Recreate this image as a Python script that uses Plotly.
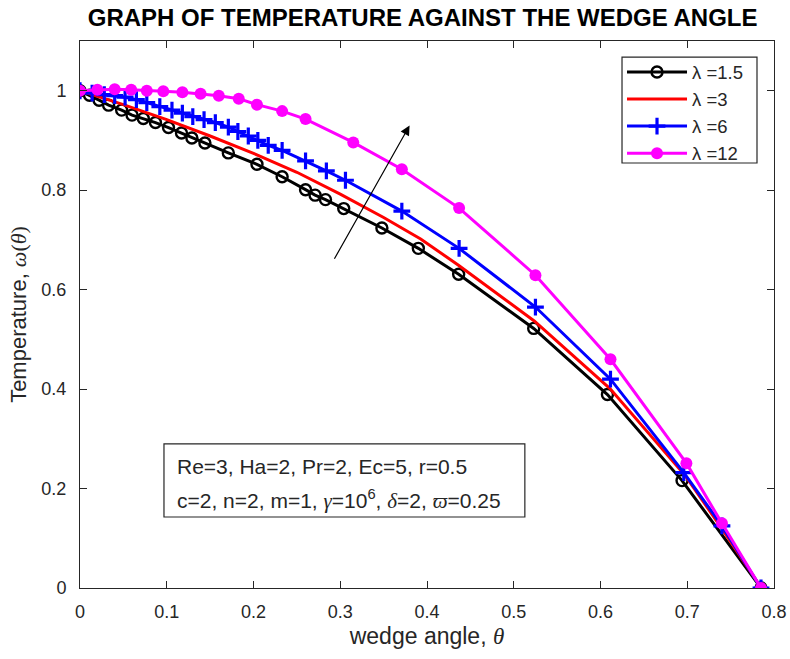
import plotly.graph_objects as go

# ---------------- data ----------------
black_theta = [0, 0.011, 0.022, 0.033, 0.048, 0.060, 0.073, 0.087, 0.102, 0.117, 0.129, 0.144,
               0.171, 0.204, 0.233, 0.260, 0.271, 0.283, 0.304, 0.348, 0.390, 0.4365, 0.523,
               0.608, 0.694, 0.785]
black_omega = [1.0, 0.991, 0.981, 0.971, 0.961, 0.951, 0.944, 0.936, 0.926, 0.915, 0.905, 0.895,
               0.875, 0.852, 0.827, 0.801, 0.790, 0.781, 0.763, 0.724, 0.683, 0.631, 0.522,
               0.389, 0.216, 0.0]

red_theta = [0, 0.05, 0.1, 0.15, 0.2, 0.25, 0.3, 0.35, 0.3927, 0.4363, 0.5236, 0.6109, 0.6981,
             0.7405, 0.7854]
red_omega = [1.0, 0.972, 0.942, 0.909, 0.874, 0.836, 0.792, 0.745, 0.702, 0.649, 0.537, 0.401,
             0.225, 0.118, 0.0]

blue_theta = [0, 0.014, 0.028, 0.040, 0.052, 0.065, 0.077, 0.092, 0.106, 0.118, 0.130, 0.143,
              0.156, 0.171, 0.182, 0.194, 0.205, 0.217, 0.233, 0.260, 0.284, 0.306, 0.371,
              0.437, 0.525, 0.6115, 0.696, 0.740, 0.785]
blue_omega = [1.0, 0.995, 0.992, 0.990, 0.987, 0.982, 0.976, 0.968, 0.961, 0.955, 0.948, 0.942,
              0.936, 0.927, 0.918, 0.909, 0.900, 0.890, 0.880, 0.859, 0.839, 0.820, 0.758,
              0.683, 0.565, 0.420, 0.232, 0.125, 0.0]

pink_theta = [0, 0.020, 0.040, 0.059, 0.077, 0.096, 0.118, 0.139, 0.160, 0.183, 0.204, 0.233,
              0.260, 0.315, 0.371, 0.437, 0.525, 0.6115, 0.699, 0.740, 0.785]
pink_omega = [1.0, 1.002, 1.003, 1.002, 1.0, 0.999, 0.997, 0.994, 0.990, 0.984, 0.972, 0.959,
              0.943, 0.896, 0.842, 0.764, 0.629, 0.460, 0.251, 0.130, 0.0]

series_names = ["λ =1.5", "λ =3", "λ =6", "λ =12"]

x_ticks = [0, 0.1, 0.2, 0.3, 0.4, 0.5, 0.6, 0.7, 0.8]
x_tick_labels = ["0", "0.1", "0.2", "0.3", "0.4", "0.5", "0.6", "0.7", "0.8"]
y_ticks = [0, 0.2, 0.4, 0.6, 0.8, 1.0]
y_tick_labels = ["0", "0.2", "0.4", "0.6", "0.8", "1"]

SERIF = "font-family:Liberation Serif"
box_line1 = "Re=3, Ha=2, Pr=2, Ec=5, r=0.5"
box_line2 = (f"c=2, n=2, m=1, <span style='{SERIF}'><i>γ</i></span>=10<sup>6</sup>, "
             f"<span style='{SERIF}'><i>δ</i></span>=2, "
             f"<span style='{SERIF}'><i>ϖ</i></span>=0.25")

# arrow: tail and tip in data coordinates
arrow_tail = (0.2923, 0.659)
arrow_tip = (0.3799, 0.930)

# ---------------- figure ----------------
FONT = "Liberation Sans, Arial, sans-serif"
TXT = "#262626"

fig = go.Figure()
fig.add_trace(go.Scatter(x=black_theta, y=black_omega, name=series_names[0], mode="lines+markers",
                         line=dict(color="black", width=3),
                         marker=dict(symbol="circle-open", size=11, color="black",
                                     line=dict(width=2.4, color="black"))))
fig.add_trace(go.Scatter(x=red_theta, y=red_omega, name=series_names[1], mode="lines",
                         line=dict(color="#ff0000", width=3)))
fig.add_trace(go.Scatter(x=blue_theta, y=blue_omega, name=series_names[2], mode="lines+markers",
                         line=dict(color="#0000ff", width=3),
                         marker=dict(symbol="cross-thin", size=12, color="#0000ff",
                                     line=dict(width=3.2, color="#0000ff"))))
fig.add_trace(go.Scatter(x=pink_theta, y=pink_omega, name=series_names[3], mode="lines+markers",
                         line=dict(color="#ff00ff", width=3),
                         marker=dict(symbol="circle", size=12, color="#ff00ff")))

# parameter box
fig.add_shape(type="rect", xref="paper", yref="paper", x0=0.121, x1=0.641, y0=0.1298, y1=0.2633,
              line=dict(color=TXT, width=1.2), fillcolor="white", layer="above")
fig.add_annotation(xref="paper", yref="paper", x=0.137, y=0.223, xanchor="left", yanchor="middle",
                   text=box_line1, showarrow=False, font=dict(family=FONT, size=21, color=TXT))
fig.add_annotation(xref="paper", yref="paper", x=0.137, y=0.162, xanchor="left", yanchor="middle",
                   text=box_line2, showarrow=False, font=dict(family=FONT, size=21, color=TXT))

# legend frame
fig.add_shape(type="rect", xref="paper", yref="paper", x0=0.781, x1=0.9755, y0=0.777, y1=0.9707,
              line=dict(color=TXT, width=1.2), fillcolor="white", layer="below")

# arrow
fig.add_annotation(x=arrow_tip[0], y=arrow_tip[1], ax=arrow_tail[0], ay=arrow_tail[1],
                   xref="x", yref="y", axref="x", ayref="y", text="", showarrow=True,
                   arrowhead=2, arrowsize=1.6, arrowwidth=1.2, arrowcolor="black")

fig.update_layout(
    width=790, height=659,
    paper_bgcolor="white", plot_bgcolor="white",
    margin=dict(l=80, r=16, t=41, b=71, autoexpand=False),
    title=dict(text="<b>GRAPH OF TEMPERATURE AGAINST THE WEDGE ANGLE</b>",
               x=0.535, xanchor="center", y=0.974, yanchor="middle",
               font=dict(family=FONT, size=24, color="black")),
    font=dict(family=FONT, size=18, color=TXT),
    showlegend=True,
    legend=dict(x=0.781, y=0.9772, xanchor="left", yanchor="top",
                borderwidth=0, bgcolor="rgba(0,0,0,0)",
                font=dict(family=FONT, size=18.5, color=TXT), itemwidth=60,
                tracegroupgap=0),
    xaxis=dict(range=[0, 0.8], tickvals=x_ticks, ticktext=x_tick_labels, automargin=False,
               ticks="inside", ticklen=7, tickcolor=TXT, showline=True, linecolor=TXT,
               linewidth=1, mirror="ticks", showgrid=False, zeroline=False,
               ticklabelstandoff=7, tickfont=dict(size=18),
               title=dict(text=f"wedge angle, <span style='{SERIF}'><i>θ</i></span>",
                          font=dict(family=FONT, size=23, color=TXT), standoff=7)),
    yaxis=dict(range=[0, 1.1], tickvals=y_ticks, ticktext=y_tick_labels, automargin=False,
               ticks="inside", ticklen=7, tickcolor=TXT, showline=True, linecolor=TXT,
               linewidth=1, mirror="ticks", showgrid=False, zeroline=False,
               ticklabelstandoff=9, tickfont=dict(size=18),
               title=dict(text=f"Temperature, <span style='{SERIF}'><i>ω</i>(<i>θ</i>)</span>",
                          font=dict(family=FONT, size=22, color=TXT), standoff=8)),
)

fig.write_html("out.html", config={"displayModeBar": False},
               post_script="document.body.style.margin='0';document.body.style.overflow='hidden';")
